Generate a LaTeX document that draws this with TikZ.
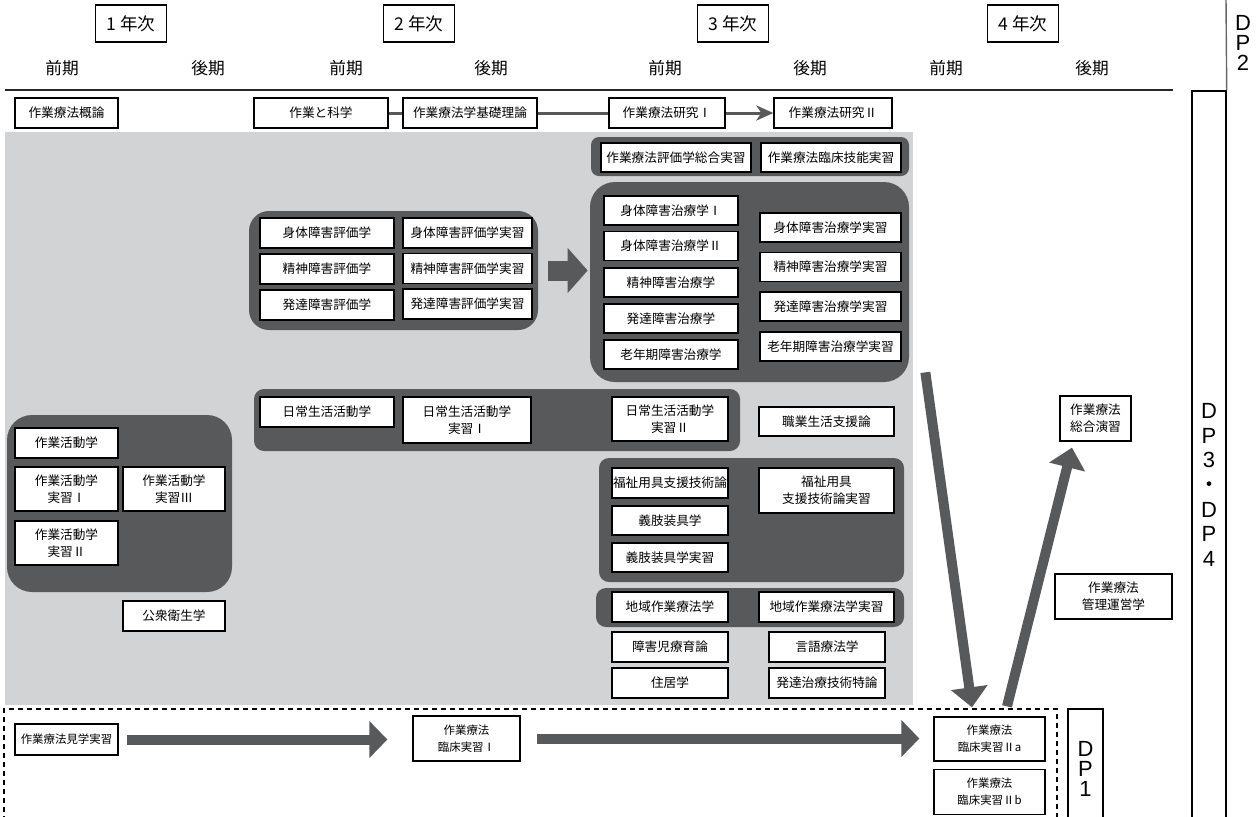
\documentclass[tikz,border=0pt]{standalone}
\usepackage{fontspec}
\setmainfont{Noto Sans CJK JP}
\newfontfamily\dpfont{Liberation Sans}
\usepackage{xcolor}
\usepackage{tikz}
\usetikzlibrary{arrows.meta, positioning}

\definecolor{dkgray}{HTML}{58595B}
\definecolor{ltgray}{HTML}{D1D3D4}

\begin{document}
\begin{tikzpicture} [
	x=0.02cm, y=-0.02cm, % one unit is one pixel of the chart
	course/.style={draw, line width=0.75pt, fill=white, inner sep=0.5pt, align=center, font=\fontsize{7.2}{9.6}\selectfont}, % every subject box
	small/.style={font=\fontsize{6.5}{9.6}\selectfont}, % the clinical practice boxes
	sz/.style 2 args={minimum width=#1*0.02cm, minimum height=#2*0.02cm}, % box size in pixels
	group/.style={fill=dkgray, inner sep=0pt, rounded corners=#1}, % dark frame round a set of subjects
	year/.style={draw, line width=0.8pt, minimum width=1.42cm, minimum height=0.74cm, font=\fontsize{10}{12}\selectfont},
	term/.style={font=\fontsize{9.5}{12}\selectfont},
	dp/.style={align=center, inner sep=0pt, font=\dpfont\fontsize{12.5}{11.5}\selectfont},
	dpbox/.style={draw, line width=0.8pt, inner sep=0pt},
	link/.style={dkgray, line width=0.06cm},
	block/.style={dkgray, line width=0.2cm, -{Triangle[length=0.36cm, width=0.72cm]}}, % thick grey arrows
	]
	\useasboundingbox (0,0) rectangle (1260,816);

	% header
	\foreach \n/\x in {1/131, 2/419, 3/733, 4/1023}
		\node[year] (year\n) at (\x,23.5) {\n\ 年次};
	\foreach \x/\t [count=\i] in {62/前期, 208/後期, 346/前期, 491/後期, 665/前期, 810/後期, 946/前期, 1092/後期}
		\node[term] (term\i) at (\x,68) {\t};
	\draw[line width=1.1pt, black!85] (5,90) -- (1173,90);

	% first row
	\node[course, sz={103}{30}] (gairon) at (66.5,113) {作業療法概論};
	\node[course, sz={134}{30}] (kagaku) at (321,113) {作業と科学};
	\node[course, sz={134}{30}] (kiso) at (470,113) {作業療法学基礎理論};
	\node[course, sz={116}{30}] (kenkyuI) at (667,113) {作業療法研究Ⅰ};
	\node[course, sz={118}{30}] (kenkyuII) at (833,113) {作業療法研究Ⅱ};
	\draw[link] (kagaku) -- (kiso);
	\draw[link] (kiso) -- (kenkyuI);
	\draw[link, -{Stealth[length=0.34cm, width=0.3cm, inset=0.1cm]}] (kenkyuI) -- (kenkyuII);

	% grey field and the dark groups
	\fill[ltgray] (5,132) rectangle (913,705);
	\node[group=0.16cm, sz={318}{39}] (hyokasogo) at (750,156.5) {};
	\node[group=0.5cm, sz={319}{200}] (chiryo) at (749.5,282) {};
	\node[group=0.4cm, sz={289}{119}] (hyoka) at (393.5,270.5) {};
	\node[group=0.2cm, sz={486}{62}] (nichijo) at (497,420) {};
	\node[group=0.5cm, sz={225}{177}] (katsudo) at (119.5,503.5) {};
	\node[group=0.2cm, sz={305}{124}] (fukushi) at (751.5,520) {};
	\node[group=0.2cm, sz={308}{39}] (chiiki) at (750,607.5) {};

	\node[course, sz={150}{29}] (hyokaJ) at (676,157.5) {作業療法評価学総合実習};
	\node[course, sz={140}{29}] (ginoJ) at (831,157.5) {作業療法臨床技能実習};

	\node[course, sz={134}{30}] (shintaiH) at (327,233) {身体障害評価学};
	\node[course, sz={134}{30}] (seishinH) at (327,269) {精神障害評価学};
	\node[course, sz={134}{30}] (hattatsuH) at (327,305) {発達障害評価学};
	\node[course, sz={129}{30}] (shintaiHJ) at (467.5,233) {身体障害評価学実習};
	\node[course, sz={129}{30}] (seishinHJ) at (467.5,268.5) {精神障害評価学実習};
	\node[course, sz={129}{30}] (hattatsuHJ) at (467.5,304) {発達障害評価学実習};

	\node[course, sz={134}{29}] (shintaiTI) at (671,210.5) {身体障害治療学Ⅰ};
	\node[course, sz={134}{29}] (shintaiTII) at (671,246) {身体障害治療学Ⅱ};
	\node[course, sz={134}{29}] (seishinT) at (671,282.5) {精神障害治療学};
	\node[course, sz={134}{29}] (hattatsuT) at (671,318.5) {発達障害治療学};
	\node[course, sz={134}{29}] (ronenT) at (671,354.5) {老年期障害治療学};
	\node[course, sz={141}{29}] (shintaiTJ) at (830.5,227.5) {身体障害治療学実習};
	\node[course, sz={141}{29}] (seishinTJ) at (830.5,267) {精神障害治療学実習};
	\node[course, sz={141}{29}] (hattatsuTJ) at (830.5,306.5) {発達障害治療学実習};
	\node[course, sz={141}{29}] (ronenTJ) at (830.5,346.5) {老年期障害治療学実習};
	\draw[dkgray, line width=0.4cm, -{Triangle[length=0.4cm, width=0.88cm]}, shorten <=0.2cm, shorten >=0.04cm] (hyoka.east) -- (hyoka.east -| chiryo.west);

	\node[course, sz={134}{30}] (adl) at (327,412) {日常生活活動学};
	\node[course, sz={128}{46}] (adlJI) at (467,420) {日常生活活動学\\実習Ⅰ};
	\node[course, sz={116}{44}] (adlJII) at (670,419) {日常生活活動学\\実習Ⅱ};
	\node[course, sz={135}{29}] (shokugyo) at (826.5,421.5) {職業生活支援論};

	\node[course, sz={103}{30}] (sagyo) at (66.5,443) {作業活動学};
	\node[course, sz={103}{44}] (sagyoJI) at (66.5,489) {作業活動学\\実習Ⅰ};
	\node[course, sz={102}{44}] (sagyoJIII) at (174,489) {作業活動学\\実習Ⅲ};
	\node[course, sz={103}{44}] (sagyoJII) at (66.5,543) {作業活動学\\実習Ⅱ};
	\node[course, sz={102}{30}] (koshu) at (174,616) {公衆衛生学};

	\node[course, sz={116}{30}] (yogu) at (670,483) {福祉用具支援技術論};
	\node[course, sz={116}{29}] (gishi) at (670,520.5) {義肢装具学};
	\node[course, sz={116}{29}] (gishiJ) at (670,557.5) {義肢装具学実習};
	\node[course, sz={135}{45}] (yoguJ) at (826.5,490.5) {福祉用具\\支援技術論実習};

	\node[course, sz={116}{30}] (chiikiS) at (670,607) {地域作業療法学};
	\node[course, sz={135}{30}] (chiikiJ) at (826.5,607) {地域作業療法学実習};
	\node[course, sz={116}{30}] (ryoiku) at (670,647) {障害児療育論};
	\node[course, sz={116}{30}] (gengo) at (827,647) {言語療法学};
	\node[course, sz={116}{30}] (jukyo) at (670,683) {住居学};
	\node[course, sz={116}{30}] (tokuron) at (827,683) {発達治療技術特論};

	% fourth year
	\node[course, sz={71}{45}] (sogo) at (1095.5,418.5) {作業療法\\総合演習};
	\node[course, sz={117}{45}] (kanri) at (1113.5,596.5) {作業療法\\管理運営学};

	% clinical practice
	\draw[line width=0.7pt, dash pattern=on 0.1cm off 0.08cm] (4,830) |- (1057,709) -- (1057,830);
	\node[course, small, sz={103}{31}] (kengaku) at (66.5,739.5) {作業療法見学実習};
	\node[course, small, sz={107}{45}] (rinshoI) at (466.5,738.5) {作業療法\\臨床実習Ⅰ};
	\node[course, small, sz={111}{44}] (IIa) at (989.5,739) {作業療法\\臨床実習Ⅱa};
	\node[course, small, sz={111}{45}, below=0.14cm of IIa] (IIb) {作業療法\\臨床実習Ⅱb};
	\draw[block, shorten <=0.16cm, shorten >=0.5cm] (kengaku.east) -- (kengaku.east -| rinshoI.west);
	\draw[block, shorten <=0.32cm, shorten >=0.28cm] (rinshoI.east) -- (rinshoI.east -| IIa.west);
	\draw[block, -{Triangle[length=0.4cm, width=0.72cm]}] ([xshift=0.32cm, yshift=0.2cm]chiryo.south east) -- ([xshift=-0.35cm, yshift=0.18cm]IIa.north);
	\draw[block, -{Triangle[length=0.4cm, width=0.72cm]}] ([xshift=0.35cm, yshift=0.2cm]IIa.north) -- ([xshift=-0.47cm, yshift=-0.12cm]sogo.south);

	% diploma policies
	\node[dpbox, sz={35}{121}] (dp1) at (1085.5,769.5) {};
	\node[dp] (dp1label) at (1085.5,769) {D\\P\\1};
	\node[dpbox, sz={34}{740}] (dp34) at (1209,461) {};
	\node[dp, font=\dpfont\fontsize{12.5}{14}\selectfont] (dp34label) at (1209,485) {D\\P\\3\\{\rmfamily ・}\\D\\P\\4};
	\node[dp] (dp2) at (1243,43) {D\\P\\2};
	\draw[line width=0.8pt, black!60] (1226,0) -- (dp34.north east);
\end{tikzpicture}
\end{document}
